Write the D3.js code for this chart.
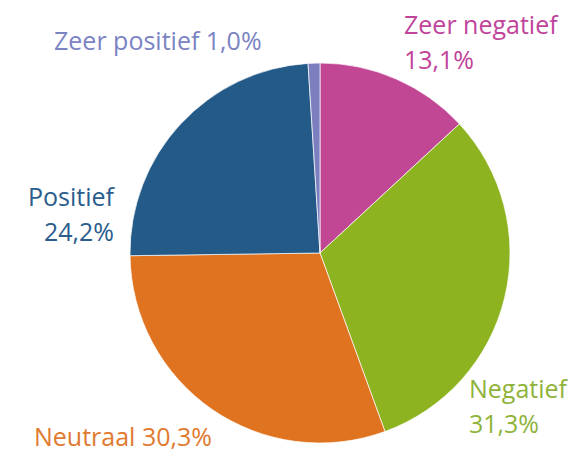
<!DOCTYPE html>
<html>
<head>
<meta charset="utf-8">
<script src="https://cdn.jsdelivr.net/npm/d3@7"></script>
<style>
  body { margin: 0; background: #fff; }
  svg text { font-family: "Open Sans", "Noto Sans", sans-serif; }
</style>
</head>
<body>
<div id="chart"></div>
<script>
const categories = ["Zeer negatief", "Negatief", "Neutraal", "Positief", "Zeer positief"];
const values = [13.1, 31.3, 30.3, 24.2, 1.0];
const labels = ["13,1%", "31,3%", "30,3%", "24,2%", "1,0%"];
const colors = ["#c14694", "#8db420", "#e07320", "#245a87", "#7b7fc0"];
const textColors = ["#c0449a", "#8fb33a", "#e07a30", "#2a5d8c", "#7b83c3"];

const width = 575, height = 453;
const cx = 320, cy = 253, r = 190;

const svg = d3.select("#chart")
    .append("svg")
    .attr("width", width)
    .attr("height", height);

const data = categories.map((c, i) => ({ name: c, value: values[i], label: labels[i], i: i }));

const pie = d3.pie()
    .value(d => d.value)
    .sort(null);

const arc = d3.arc()
    .innerRadius(0)
    .outerRadius(r);

const g = svg.append("g")
    .attr("transform", `translate(${cx},${cy})`);

g.selectAll("path")
    .data(pie(data))
    .join("path")
    .attr("d", arc)
    .attr("fill", d => colors[d.data.i])
    .attr("stroke", "#fff")
    .attr("stroke-width", 0.7);

// label placement (lines of text per slice)
const labelPos = [
    { x: 404, y: 34, anchor: "start", lines: d => [d.name, d.label] },
    { x: 469, y: 398, anchor: "start", lines: d => [d.name, d.label] },
    { x: 34, y: 446, anchor: "start", lines: d => [d.name + " " + d.label] },
    { x: 114, y: 206, anchor: "end", lines: d => [d.name, d.label] },
    { x: 54, y: 50, anchor: "start", lines: d => [d.name + " " + d.label] }
];

data.forEach((d, i) => {
    const p = labelPos[i];
    const t = svg.append("text")
        .attr("x", p.x)
        .attr("y", p.y)
        .attr("text-anchor", p.anchor)
        .attr("fill", textColors[i])
        .style("font-size", "25px");
    p.lines(d).forEach((line, k) => {
        t.append("tspan")
            .attr("x", p.x)
            .attr("dy", k == 0 ? 0 : 35)
            .text(line);
    });
});
</script>
</body>
</html>
